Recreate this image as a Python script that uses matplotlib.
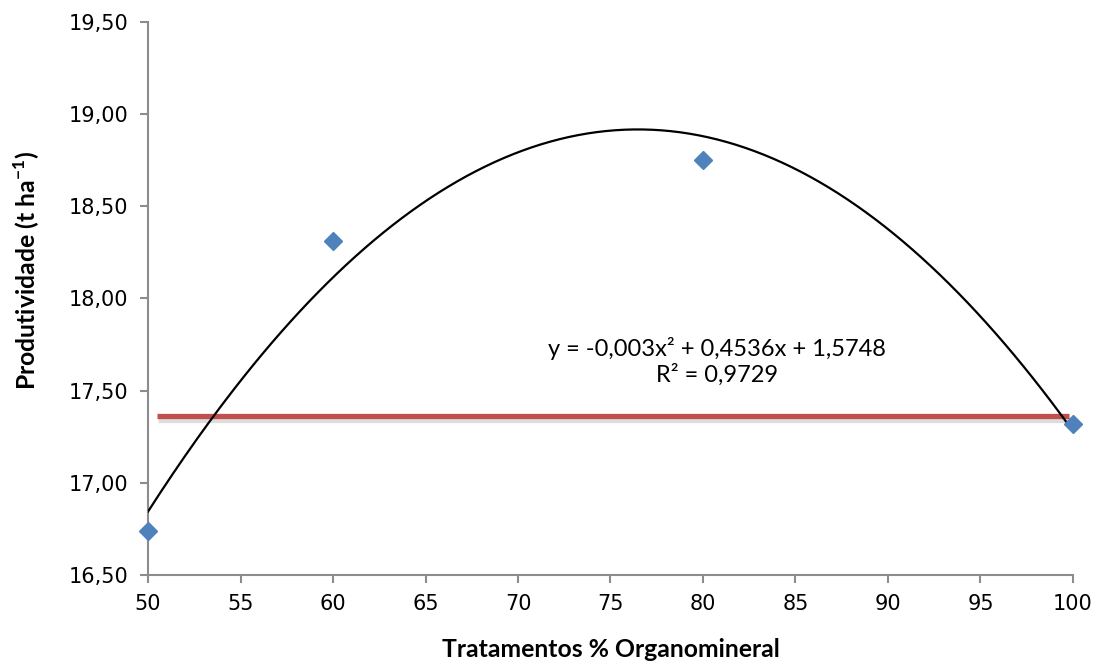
import numpy as np
import matplotlib
matplotlib.use("Agg")
import matplotlib.pyplot as plt
import matplotlib.patheffects as pe
from matplotlib.ticker import FuncFormatter

# ----------------------------
# Data
# ----------------------------
tratamentos = [50, 60, 80, 100]
produtividade = [16.74, 18.31, 18.75, 17.32]

# horizontal reference line (red)
ref_x = [50.5, 99.8]
ref_y = [17.36, 17.36]

x_ticks = [50, 55, 60, 65, 70, 75, 80, 85, 90, 95, 100]
y_ticks = [16.50, 17.00, 17.50, 18.00, 18.50, 19.00, 19.50]

eq_text = "y = -0,003x² + 0,4536x + 1,5748\nR² = 0,9729"

# ----------------------------
# Style
# ----------------------------
plt.rcParams.update({
    "font.family": ["Lato", "DejaVu Sans"],
    "mathtext.fontset": "custom",
    "mathtext.rm": "Lato",
    "mathtext.bf": "Lato:bold",
})
AXIS_GREY = "#8C8C8C"
BLUE = "#4F81BD"
RED = "#C0504D"

fig = plt.figure(figsize=(10.99, 6.62), dpi=100)
ax = fig.add_axes([0.1347, 0.1314, 0.8416, 0.8354])

# quadratic trendline fitted to the points
coef = np.polyfit(tratamentos, produtividade, 2)
xs = np.linspace(50, 100, 300)
ax.plot(xs, np.polyval(coef, xs), color="black", lw=1.6, zorder=3)

# red line with soft shadow
ax.plot(ref_x, ref_y, color=RED, lw=3.8, solid_capstyle="butt", zorder=2,
        path_effects=[pe.SimpleLineShadow(offset=(0.5, -2.5), shadow_color="#AAAAAA", alpha=0.4),
                      pe.Normal()])

ax.plot(tratamentos, produtividade, linestyle="none", marker="D",
        markersize=9.5, color=BLUE, zorder=4, clip_on=False)

ax.set_xlim(50, 100)
ax.set_ylim(16.5, 19.5)
ax.set_xticks(x_ticks)
ax.set_yticks(y_ticks)
ax.yaxis.set_major_formatter(FuncFormatter(lambda v, p: f"{v:.2f}".replace(".", ",")))

for s in ["top", "right"]:
    ax.spines[s].set_visible(False)
for s in ["left", "bottom"]:
    ax.spines[s].set_color(AXIS_GREY)
    ax.spines[s].set_linewidth(1.5)
ax.tick_params(axis="both", direction="out", length=6, width=1.5,
               color=AXIS_GREY, pad=8)
for lab in ax.get_xticklabels() + ax.get_yticklabels():
    lab.set_fontfamily("DejaVu Sans")
    lab.set_fontsize(15)

ax.set_xlabel("Tratamentos % Organomineral", fontsize=17.8, fontweight="bold")
ax.set_ylabel(r"Produtividade (t ha$^{\mathbf{-1}}$)", fontsize=17.8, fontweight="bold")
ax.xaxis.set_label_coords(0.5, -0.113)
ax.yaxis.set_label_coords(-0.115, 0.551)

ax.text(80.76, 17.66, eq_text, ha="center", va="center", fontsize=17, linespacing=1.2)

fig.savefig("out.png", dpi=100)
